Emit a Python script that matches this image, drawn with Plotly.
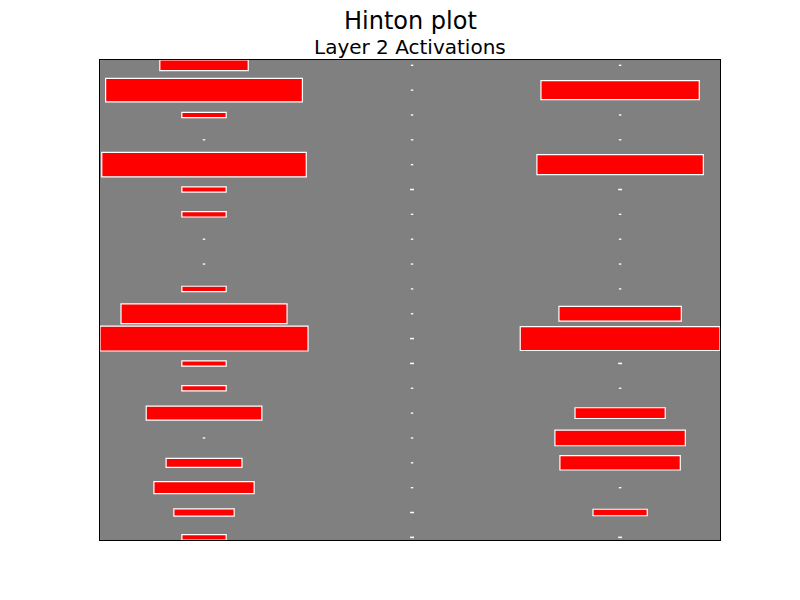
import numpy as np
import plotly.graph_objects as go

# Activation weights (rows top->bottom), one list per column (unit)
unit_0 = [0.1806, 0.895, 0.0454, 0.000036, 0.966, 0.0454, 0.0454, 0.000036, 0.000036, 0.0454,
          0.637, 1.0, 0.0454, 0.0454, 0.309, 0.000036, 0.133, 0.232, 0.0841, 0.0454]
unit_1 = [0.000036, 0.000036, 0.000036, 0.000036, 0.000036, 0.00017, 0.000036, 0.000036, 0.000036, 0.000036,
          0.000036, 0.00017, 0.00017, 0.000036, 0.000036, 0.000036, 0.000036, 0.000036, 0.00017, 0.00017]
unit_2 = [0.000036, 0.579, 0.000036, 0.000036, 0.64, 0.00017, 0.000036, 0.000036, 0.000036, 0.000036,
          0.346, 0.922, 0.00017, 0.000036, 0.188, 0.393, 0.335, 0.000036, 0.068, 0.00017]

columns = [unit_0, unit_1, unit_2]
matrix = np.array(columns)  # shape (3, 20)
max_weight = np.abs(matrix).max()

fig = go.Figure()
shapes = []
xmins, xmaxs, ymins, ymaxs = [], [], [], []
for (x, y), w in np.ndenumerate(matrix):
    size = np.sqrt(abs(w) / max_weight)
    x0, x1 = x - size / 2, x + size / 2
    y0, y1 = y - size / 2, y + size / 2
    xmins.append(x0); xmaxs.append(x1); ymins.append(y0); ymaxs.append(y1)
    shapes.append(dict(type="rect", xref="x", yref="y", x0=x0, x1=x1, y0=y0, y1=y1,
                       fillcolor="#ff0000", line=dict(color="white", width=1.2), layer="below"))

# invisible trace so axes exist
fig.add_trace(go.Scatter(x=[0], y=[0], mode="markers", marker=dict(opacity=0), hoverinfo="skip", showlegend=False))

fig.update_layout(
    width=800, height=600,
    margin=dict(l=100, r=80, t=60, b=60),
    paper_bgcolor="white", plot_bgcolor="#808080",
    shapes=shapes,
    showlegend=False,
    font=dict(family="DejaVu Sans", color="black"),
    xaxis=dict(range=[min(xmins), max(xmaxs)], showgrid=False, zeroline=False, showticklabels=False,
               ticks="", showline=True, linecolor="black", linewidth=1, mirror=True),
    yaxis=dict(range=[max(ymaxs), min(ymins)], showgrid=False, zeroline=False, showticklabels=False,
               ticks="", showline=True, linecolor="black", linewidth=1, mirror=True),
    annotations=[
        dict(text="Hinton plot", xref="paper", yref="paper", x=0.5, y=(540 - 21) / 480,
             xanchor="center", yanchor="middle", showarrow=False, font=dict(size=24, family="DejaVu Sans")),
        dict(text="Layer 2 Activations", xref="paper", yref="paper", x=0.5, y=(540 - 47.5) / 480,
             xanchor="center", yanchor="middle", showarrow=False, font=dict(size=20, family="DejaVu Sans")),
    ],
)

fig.write_html("out.html")
